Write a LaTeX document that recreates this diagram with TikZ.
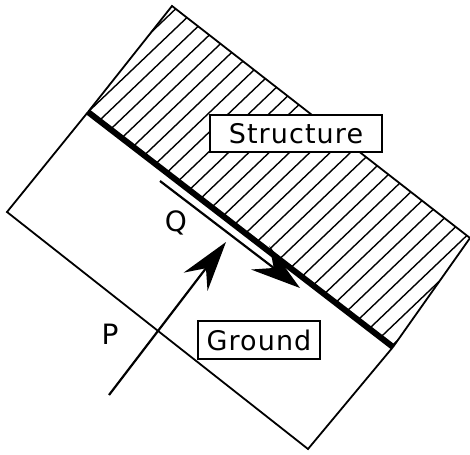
\documentclass[tikz,border=0pt]{standalone}
\usepackage{fontspec}
\setmainfont{DejaVu Sans}
\newfontfamily\boxfont{DejaVu Sans}[LetterSpace=4]
\usetikzlibrary{arrows.meta,calc}

\tikzset{
  edge/.style={line width=1.8pt},
  hatch/.style={line width=1.4pt},
  labelbox/.style={draw, line width=1.8pt, fill=white, inner sep=0pt,
    font=\boxfont\fontsize{27}{27}\selectfont},
  letter/.style={font=\fontsize{28}{28}\selectfont},
  force/.style={line width=2.2pt, -{Stealth[length=50pt,width=30pt,inset=17pt]}},
}

\begin{document}
\begin{tikzpicture}[x=1pt,y=-1pt]
    \useasboundingbox (0,0) rectangle (470,454);

    % corners
    \coordinate (A) at (88,112);
    \coordinate (B) at (172,6);
    \coordinate (C) at (470,238);
    \coordinate (D) at (393,347);
    \coordinate (E) at (7,212);
    \coordinate (F) at (308,449);

    % hatched structure
    \begin{scope}
        \clip (A) -- (B) -- (C) -- (D) -- cycle;
        \foreach \k in {-8,...,36}
            \draw[hatch] ($(A)!\k*14.2/385!(D)$) +(-220,210) -- +(220,-210);
    \end{scope}
    \draw[edge] (A) -- (B) -- (C) -- (D);

    % ground
    \draw[edge] (A) -- (E) -- (F) -- (D);

    % contact
    \draw[line width=6pt] (A) -- (D);

    % forces
    \coordinate (qtail) at (160,181);
    \coordinate (qtip) at (300,288);
    \coordinate (ptail) at (109,395);
    \coordinate (ptip) at (226,242);
    \draw[force] (qtail) -- (qtip);
    \draw[force] (ptail) -- (ptip);

    \node[letter] (q) at (176,223) {Q};
    \node[letter] (p) at (110,334) {P};

    \node[labelbox, minimum width=172pt, minimum height=37pt] (structure) at (296,133.5) {Structure};
    \node[labelbox, minimum width=122pt, minimum height=38pt] (ground) at (259,340) {Ground};
\end{tikzpicture}
\end{document}
